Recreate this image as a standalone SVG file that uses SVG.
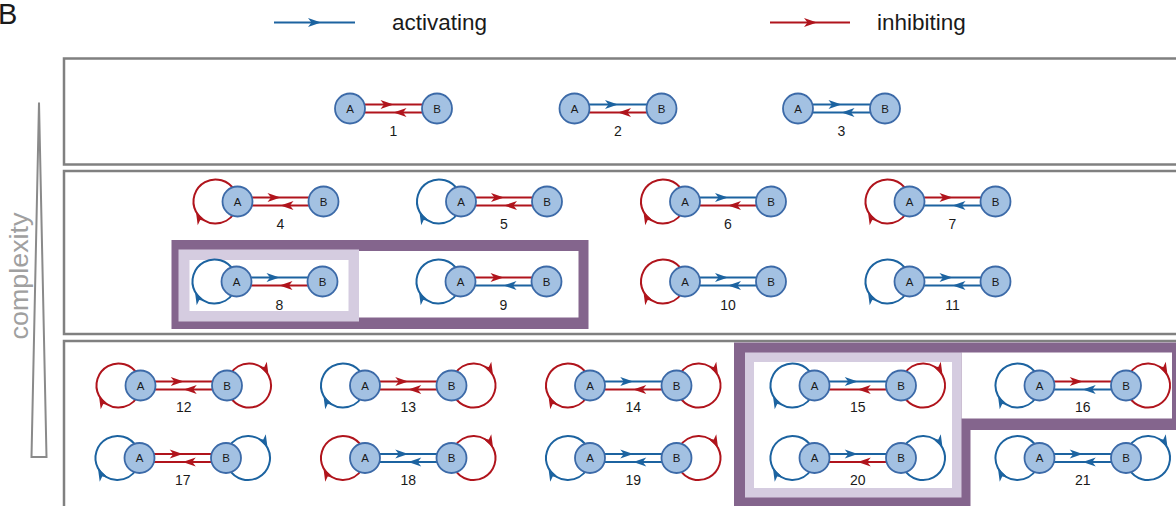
<svg xmlns="http://www.w3.org/2000/svg" width="1176" height="506" viewBox="0 0 1176 506">
  <style>
    .panel { fill: none; stroke: #808080; stroke-width: 2.5; }
    .dark { fill: #84658d; }
    .light { fill: #d5cce0; }
    .white { fill: #ffffff; }
    .e { fill: none; stroke-width: 2; }
    .r { stroke: #b0141c; marker-mid: url(#ar); }
    .b { stroke: #1c63a0; marker-mid: url(#ab); }
    .node circle { fill: #a3c1e2; stroke: #3c6aa8; stroke-width: 1.8; }
    .node text { font-family: "Liberation Sans", Arial, sans-serif; font-size: 11.5px; fill: #1a1a1a; text-anchor: middle; }
    .lbl { font-family: "Liberation Sans", Arial, sans-serif; font-size: 14px; fill: #1a1a1a; text-anchor: middle; }
    .legend { font-family: "Liberation Sans", Arial, sans-serif; font-size: 22.5px; fill: #1a1a1a; }
  </style>
  <defs>
    <marker id="ar" viewBox="-14 -6 15 12" refX="0" refY="0" markerWidth="15" markerHeight="12" markerUnits="userSpaceOnUse" orient="auto">
      <path d="M0,0 L-13,-4.6 L-9.5,0 L-13,4.6 Z" fill="#b0141c"/>
    </marker>
    <marker id="ab" viewBox="-14 -6 15 12" refX="0" refY="0" markerWidth="15" markerHeight="12" markerUnits="userSpaceOnUse" orient="auto">
      <path d="M0,0 L-13,-4.6 L-9.5,0 L-13,4.6 Z" fill="#1c63a0"/>
    </marker>
  </defs>

  <!-- panel letter and legend -->
  <text x="-2" y="24" font-family="Liberation Sans, Arial, sans-serif" font-size="29" fill="#1a1a1a">B</text>
  <g id="legend">
    <path class="e b" d="M274,22.5 L321,22.5 L355,22.5"/>
    <text class="legend" x="392" y="30">activating</text>
    <path class="e r" d="M770,22.5 L817,22.5 L850,22.5"/>
    <text class="legend" x="877" y="30">inhibiting</text>
  </g>

  <!-- complexity axis -->
  <g id="complexity">
    <polygon points="39,102.5 31.5,457 46.5,457" fill="#ffffff" stroke="#8a8a8a" stroke-width="2" stroke-linejoin="miter"/>
    <text transform="translate(28,276) rotate(-90)" font-family="Liberation Sans, Arial, sans-serif" font-size="25" fill="#a0a0a0" text-anchor="middle" textLength="127" lengthAdjust="spacingAndGlyphs">complexity</text>
  </g>

  <!-- panels -->
  <g id="panels">
    <rect class="panel" x="64" y="58.5" width="1200" height="106"/>
    <rect class="panel" x="64" y="171" width="1200" height="163"/>
    <rect class="panel" x="64" y="341" width="1200" height="200"/>
  </g>

  <!-- highlighted groups -->
  <g id="highlight-8-9">
    <rect class="dark" x="171.5" y="240" width="417" height="89"/>
    <rect class="white" x="181" y="251" width="397.5" height="66.5"/>
    <rect class="light" x="178.5" y="249.5" width="180.5" height="72"/>
    <rect class="white" x="189.5" y="260" width="159" height="51"/>
  </g>
  <g id="highlight-15-16-20-21">
    <rect class="dark" x="734" y="342.5" width="450" height="170"/>
    <rect class="white" x="961.5" y="352.5" width="210.5" height="66"/>
    <rect class="white" x="970.5" y="430" width="210" height="80"/>
    <rect class="light" x="745" y="352.5" width="216.5" height="145"/>
    <rect class="white" x="754" y="362" width="198" height="126"/>
  </g>

  <!-- connectors -->
  <g id="connectors">
    <!-- 1 -->
    <path class="e r" d="M364.5,104.5 L393.5,104.5 L422.5,104.5"/>
    <path class="e r" d="M422.5,112.5 L393.5,112.5 L364.5,112.5"/>
    <!-- 2 -->
    <path class="e b" d="M589,104.5 L618,104.5 L647,104.5"/>
    <path class="e r" d="M647,112.5 L618,112.5 L589,112.5"/>
    <!-- 3 -->
    <path class="e b" d="M812.5,104.5 L841.5,104.5 L870.5,104.5"/>
    <path class="e b" d="M870.5,112.5 L841.5,112.5 L812.5,112.5"/>
    <!-- 4 -->
    <path class="e r" d="M234.55,212.5 A22,22 0 0 1 195.9,211.5 A22,22 0 0 1 234.55,190.5"/>
    <path class="e r" d="M252,197.5 L280.5,197.5 L309,197.5"/>
    <path class="e r" d="M309,205.5 L280.5,205.5 L252,205.5"/>
    <!-- 5 -->
    <path class="e b" d="M458.05,212.5 A22,22 0 0 1 419.4,211.5 A22,22 0 0 1 458.05,190.5"/>
    <path class="e r" d="M475.5,197.5 L504,197.5 L532.5,197.5"/>
    <path class="e r" d="M532.5,205.5 L504,205.5 L475.5,205.5"/>
    <!-- 6 -->
    <path class="e r" d="M682.05,212.5 A22,22 0 0 1 643.4,211.5 A22,22 0 0 1 682.05,190.5"/>
    <path class="e b" d="M699.5,197.5 L728,197.5 L756.5,197.5"/>
    <path class="e r" d="M756.5,205.5 L728,205.5 L699.5,205.5"/>
    <!-- 7 -->
    <path class="e r" d="M906.55,212.5 A22,22 0 0 1 867.9,211.5 A22,22 0 0 1 906.55,190.5"/>
    <path class="e r" d="M924,197.5 L952.5,197.5 L981,197.5"/>
    <path class="e b" d="M981,205.5 L952.5,205.5 L924,205.5"/>
    <!-- 8 -->
    <path class="e b" d="M233.55,292.5 A22,22 0 0 1 194.9,291.5 A22,22 0 0 1 233.55,270.5"/>
    <path class="e b" d="M251,277.5 L279.5,277.5 L308,277.5"/>
    <path class="e r" d="M308,285.5 L279.5,285.5 L251,285.5"/>
    <!-- 9 -->
    <path class="e b" d="M457.55,292.5 A22,22 0 0 1 418.9,291.5 A22,22 0 0 1 457.55,270.5"/>
    <path class="e r" d="M475,277.5 L503.5,277.5 L532,277.5"/>
    <path class="e b" d="M532,285.5 L503.5,285.5 L475,285.5"/>
    <!-- 10 -->
    <path class="e r" d="M682.05,292.5 A22,22 0 0 1 643.4,291.5 A22,22 0 0 1 682.05,270.5"/>
    <path class="e b" d="M699.5,277.5 L728,277.5 L756.5,277.5"/>
    <path class="e b" d="M756.5,285.5 L728,285.5 L699.5,285.5"/>
    <!-- 11 -->
    <path class="e b" d="M906.55,292.5 A22,22 0 0 1 867.9,291.5 A22,22 0 0 1 906.55,270.5"/>
    <path class="e b" d="M924,277.5 L952.5,277.5 L981,277.5"/>
    <path class="e b" d="M981,285.5 L952.5,285.5 L924,285.5"/>
    <!-- 12 -->
    <path class="e r" d="M137.55,396.5 A22,22 0 0 1 98.9,395.5 A22,22 0 0 1 137.55,374.5"/>
    <path class="e r" d="M229.95,374.5 A22,22 0 0 1 268.6,375.5 A22,22 0 0 1 229.95,396.5"/>
    <path class="e r" d="M155,381.5 L183.75,381.5 L212.5,381.5"/>
    <path class="e r" d="M212.5,389.5 L183.75,389.5 L155,389.5"/>
    <!-- 13 -->
    <path class="e b" d="M362.05,396.5 A22,22 0 0 1 323.4,395.5 A22,22 0 0 1 362.05,374.5"/>
    <path class="e r" d="M454.45,374.5 A22,22 0 0 1 493.1,375.5 A22,22 0 0 1 454.45,396.5"/>
    <path class="e r" d="M379.5,381.5 L408.25,381.5 L437,381.5"/>
    <path class="e r" d="M437,389.5 L408.25,389.5 L379.5,389.5"/>
    <!-- 14 -->
    <path class="e r" d="M587.05,396.5 A22,22 0 0 1 548.4,395.5 A22,22 0 0 1 587.05,374.5"/>
    <path class="e r" d="M679.45,374.5 A22,22 0 0 1 718.1,375.5 A22,22 0 0 1 679.45,396.5"/>
    <path class="e b" d="M604.5,381.5 L633.25,381.5 L662,381.5"/>
    <path class="e r" d="M662,389.5 L633.25,389.5 L604.5,389.5"/>
    <!-- 15 -->
    <path class="e b" d="M811.55,396.5 A22,22 0 0 1 772.9,395.5 A22,22 0 0 1 811.55,374.5"/>
    <path class="e r" d="M903.95,374.5 A22,22 0 0 1 942.6,375.5 A22,22 0 0 1 903.95,396.5"/>
    <path class="e b" d="M829,381.5 L857.75,381.5 L886.5,381.5"/>
    <path class="e r" d="M886.5,389.5 L857.75,389.5 L829,389.5"/>
    <!-- 16 -->
    <path class="e b" d="M1036.55,396.5 A22,22 0 0 1 997.9,395.5 A22,22 0 0 1 1036.55,374.5"/>
    <path class="e r" d="M1128.95,374.5 A22,22 0 0 1 1167.6,375.5 A22,22 0 0 1 1128.95,396.5"/>
    <path class="e r" d="M1054,381.5 L1082.75,381.5 L1111.5,381.5"/>
    <path class="e b" d="M1111.5,389.5 L1082.75,389.5 L1054,389.5"/>
    <!-- 17 -->
    <path class="e b" d="M136.55,469 A22,22 0 0 1 97.9,468 A22,22 0 0 1 136.55,447"/>
    <path class="e b" d="M228.95,447 A22,22 0 0 1 267.6,448 A22,22 0 0 1 228.95,469"/>
    <path class="e r" d="M154,454 L182.75,454 L211.5,454"/>
    <path class="e r" d="M211.5,462 L182.75,462 L154,462"/>
    <!-- 18 -->
    <path class="e r" d="M362.05,469 A22,22 0 0 1 323.4,468 A22,22 0 0 1 362.05,447"/>
    <path class="e r" d="M454.45,447 A22,22 0 0 1 493.1,448 A22,22 0 0 1 454.45,469"/>
    <path class="e b" d="M379.5,454 L408.25,454 L437,454"/>
    <path class="e b" d="M437,462 L408.25,462 L379.5,462"/>
    <!-- 19 -->
    <path class="e b" d="M587.05,469 A22,22 0 0 1 548.4,468 A22,22 0 0 1 587.05,447"/>
    <path class="e r" d="M679.45,447 A22,22 0 0 1 718.1,448 A22,22 0 0 1 679.45,469"/>
    <path class="e b" d="M604.5,454 L633.25,454 L662,454"/>
    <path class="e b" d="M662,462 L633.25,462 L604.5,462"/>
    <!-- 20 -->
    <path class="e b" d="M811.55,469 A22,22 0 0 1 772.9,468 A22,22 0 0 1 811.55,447"/>
    <path class="e b" d="M903.95,447 A22,22 0 0 1 942.6,448 A22,22 0 0 1 903.95,469"/>
    <path class="e b" d="M829,454 L857.75,454 L886.5,454"/>
    <path class="e r" d="M886.5,462 L857.75,462 L829,462"/>
    <!-- 21 -->
    <path class="e b" d="M1036.55,469 A22,22 0 0 1 997.9,468 A22,22 0 0 1 1036.55,447"/>
    <path class="e b" d="M1128.95,447 A22,22 0 0 1 1167.6,448 A22,22 0 0 1 1128.95,469"/>
    <path class="e b" d="M1054,454 L1082.75,454 L1111.5,454"/>
    <path class="e b" d="M1111.5,462 L1082.75,462 L1054,462"/>
  </g>

  <!-- nodes -->
  <g id="n1a" class="node"><circle cx="350" cy="108.5" r="15"/><text x="350" y="112.5">A</text></g>
  <g id="n1b" class="node"><circle cx="437" cy="108.5" r="15"/><text x="437" y="112.5">B</text></g>
  <g id="n2a" class="node"><circle cx="574.5" cy="108.5" r="15"/><text x="574.5" y="112.5">A</text></g>
  <g id="n2b" class="node"><circle cx="661.5" cy="108.5" r="15"/><text x="661.5" y="112.5">B</text></g>
  <g id="n3a" class="node"><circle cx="798" cy="108.5" r="15"/><text x="798" y="112.5">A</text></g>
  <g id="n3b" class="node"><circle cx="885" cy="108.5" r="15"/><text x="885" y="112.5">B</text></g>

  <g id="n4a" class="node"><circle cx="237.5" cy="201.5" r="15"/><text x="237.5" y="205.5">A</text></g>
  <g id="n4b" class="node"><circle cx="323.5" cy="201.5" r="15"/><text x="323.5" y="205.5">B</text></g>
  <g id="n5a" class="node"><circle cx="461" cy="201.5" r="15"/><text x="461" y="205.5">A</text></g>
  <g id="n5b" class="node"><circle cx="547" cy="201.5" r="15"/><text x="547" y="205.5">B</text></g>
  <g id="n6a" class="node"><circle cx="685" cy="201.5" r="15"/><text x="685" y="205.5">A</text></g>
  <g id="n6b" class="node"><circle cx="771" cy="201.5" r="15"/><text x="771" y="205.5">B</text></g>
  <g id="n7a" class="node"><circle cx="909.5" cy="201.5" r="15"/><text x="909.5" y="205.5">A</text></g>
  <g id="n7b" class="node"><circle cx="995.5" cy="201.5" r="15"/><text x="995.5" y="205.5">B</text></g>

  <g id="n8a" class="node"><circle cx="236.5" cy="281.5" r="15"/><text x="236.5" y="285.5">A</text></g>
  <g id="n8b" class="node"><circle cx="322.5" cy="281.5" r="15"/><text x="322.5" y="285.5">B</text></g>
  <g id="n9a" class="node"><circle cx="460.5" cy="281.5" r="15"/><text x="460.5" y="285.5">A</text></g>
  <g id="n9b" class="node"><circle cx="546.5" cy="281.5" r="15"/><text x="546.5" y="285.5">B</text></g>
  <g id="n10a" class="node"><circle cx="685" cy="281.5" r="15"/><text x="685" y="285.5">A</text></g>
  <g id="n10b" class="node"><circle cx="771" cy="281.5" r="15"/><text x="771" y="285.5">B</text></g>
  <g id="n11a" class="node"><circle cx="909.5" cy="281.5" r="15"/><text x="909.5" y="285.5">A</text></g>
  <g id="n11b" class="node"><circle cx="995.5" cy="281.5" r="15"/><text x="995.5" y="285.5">B</text></g>

  <g id="n12a" class="node"><circle cx="140.5" cy="385.5" r="15"/><text x="140.5" y="389.5">A</text></g>
  <g id="n12b" class="node"><circle cx="227" cy="385.5" r="15"/><text x="227" y="389.5">B</text></g>
  <g id="n13a" class="node"><circle cx="365" cy="385.5" r="15"/><text x="365" y="389.5">A</text></g>
  <g id="n13b" class="node"><circle cx="451.5" cy="385.5" r="15"/><text x="451.5" y="389.5">B</text></g>
  <g id="n14a" class="node"><circle cx="590" cy="385.5" r="15"/><text x="590" y="389.5">A</text></g>
  <g id="n14b" class="node"><circle cx="676.5" cy="385.5" r="15"/><text x="676.5" y="389.5">B</text></g>
  <g id="n15a" class="node"><circle cx="814.5" cy="385.5" r="15"/><text x="814.5" y="389.5">A</text></g>
  <g id="n15b" class="node"><circle cx="901" cy="385.5" r="15"/><text x="901" y="389.5">B</text></g>
  <g id="n16a" class="node"><circle cx="1039.5" cy="385.5" r="15"/><text x="1039.5" y="389.5">A</text></g>
  <g id="n16b" class="node"><circle cx="1126" cy="385.5" r="15"/><text x="1126" y="389.5">B</text></g>

  <g id="n17a" class="node"><circle cx="139.5" cy="458" r="15"/><text x="139.5" y="462">A</text></g>
  <g id="n17b" class="node"><circle cx="226" cy="458" r="15"/><text x="226" y="462">B</text></g>
  <g id="n18a" class="node"><circle cx="365" cy="458" r="15"/><text x="365" y="462">A</text></g>
  <g id="n18b" class="node"><circle cx="451.5" cy="458" r="15"/><text x="451.5" y="462">B</text></g>
  <g id="n19a" class="node"><circle cx="590" cy="458" r="15"/><text x="590" y="462">A</text></g>
  <g id="n19b" class="node"><circle cx="676.5" cy="458" r="15"/><text x="676.5" y="462">B</text></g>
  <g id="n20a" class="node"><circle cx="814.5" cy="458" r="15"/><text x="814.5" y="462">A</text></g>
  <g id="n20b" class="node"><circle cx="901" cy="458" r="15"/><text x="901" y="462">B</text></g>
  <g id="n21a" class="node"><circle cx="1039.5" cy="458" r="15"/><text x="1039.5" y="462">A</text></g>
  <g id="n21b" class="node"><circle cx="1126" cy="458" r="15"/><text x="1126" y="462">B</text></g>

  <!-- motif numbers -->
  <g id="labels">
    <text class="lbl" x="393.5" y="135.5">1</text>
    <text class="lbl" x="618" y="135.5">2</text>
    <text class="lbl" x="841.5" y="135.5">3</text>
    <text class="lbl" x="280.5" y="228.5">4</text>
    <text class="lbl" x="504" y="228.5">5</text>
    <text class="lbl" x="728" y="228.5">6</text>
    <text class="lbl" x="952.5" y="228.5">7</text>
    <text class="lbl" x="279.5" y="309.5">8</text>
    <text class="lbl" x="503.5" y="309.5">9</text>
    <text class="lbl" x="728" y="309.5">10</text>
    <text class="lbl" x="952.5" y="309.5">11</text>
    <text class="lbl" x="183.75" y="412">12</text>
    <text class="lbl" x="408.25" y="412">13</text>
    <text class="lbl" x="633.25" y="412">14</text>
    <text class="lbl" x="857.75" y="412">15</text>
    <text class="lbl" x="1082.75" y="412">16</text>
    <text class="lbl" x="182.75" y="485">17</text>
    <text class="lbl" x="408.25" y="485">18</text>
    <text class="lbl" x="633.25" y="485">19</text>
    <text class="lbl" x="857.75" y="485">20</text>
    <text class="lbl" x="1082.75" y="485">21</text>
  </g>
</svg>
